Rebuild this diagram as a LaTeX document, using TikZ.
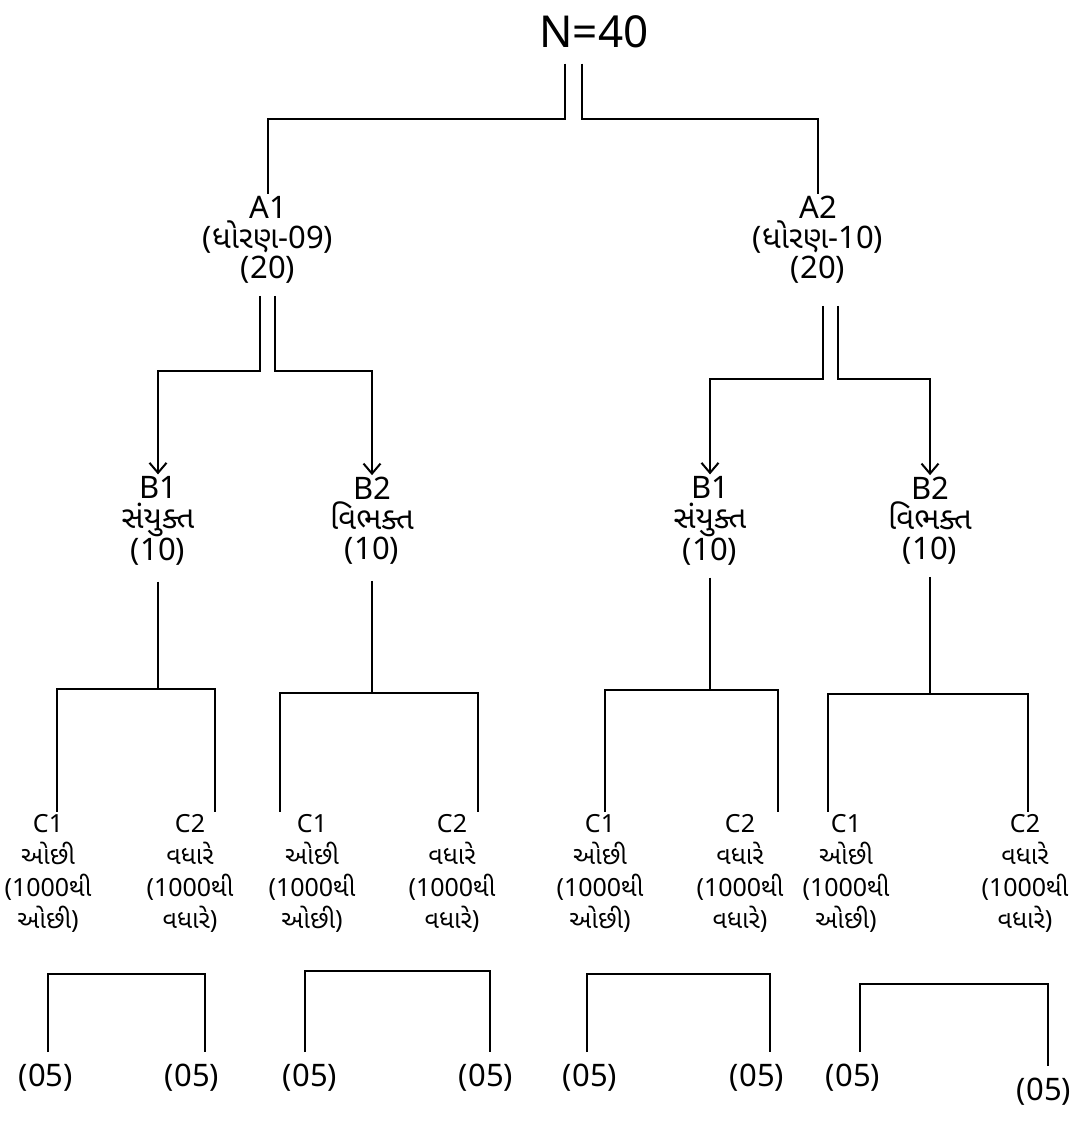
\documentclass[tikz,border=0pt]{standalone}
\usepackage{fontspec}
\setmainfont{Noto Sans}
\newfontfamily\guj[Script=Gujarati]{Noto Sans Gujarati UI}
\usetikzlibrary{arrows.meta}

\begin{document}
\begin{tikzpicture}[x=1pt, y=-1pt,
	lbl/.style={align=center, font=\fontsize{31}{30}\selectfont, inner sep=2pt},
	clbl/.style={align=center, font=\fontsize{25}{32}\selectfont, inner sep=2pt},
	wire/.style={line width=2pt},
	down/.style={line width=2pt, arrows={-{Straight Barb[length=10pt,width=17pt]}}}]
	\useasboundingbox (0,0) rectangle (1087,1124);
	\fill[white] (0,0) rectangle (1087,1124);

	\node[font=\fontsize{44}{44}\selectfont] (N) at (594,32) {N=40};

	\node[lbl] (A1) at (268,240) {A1\\({\guj ધોરણ}-09)\\(20)};
	\node[lbl] (A2) at (818,240) {A2\\({\guj ધોરણ}-10)\\(20)};

	\node[lbl] (B11) at (158,521) {B1\\{\guj સંયુક્ત}\\(10)};
	\node[lbl] (B12) at (372,521) {B2\\{\guj વિભક્ત}\\(10)};
	\node[lbl] (B21) at (710,521) {B1\\{\guj સંયુક્ત}\\(10)};
	\node[lbl] (B22) at (930,521) {B2\\{\guj વિભક્ત}\\(10)};

	\node[clbl] (C111) at (48,873) {C1\\{\guj ઓછી}\\(1000{\guj થી}\\{\guj ઓછી})};
	\node[clbl] (C112) at (190,873) {C2\\{\guj વધારે}\\(1000{\guj થી}\\{\guj વધારે})};
	\node[clbl] (C121) at (312,873) {C1\\{\guj ઓછી}\\(1000{\guj થી}\\{\guj ઓછી})};
	\node[clbl] (C122) at (452,873) {C2\\{\guj વધારે}\\(1000{\guj થી}\\{\guj વધારે})};
	\node[clbl] (C211) at (600,873) {C1\\{\guj ઓછી}\\(1000{\guj થી}\\{\guj ઓછી})};
	\node[clbl] (C212) at (740,873) {C2\\{\guj વધારે}\\(1000{\guj થી}\\{\guj વધારે})};
	\node[clbl] (C221) at (846,873) {C1\\{\guj ઓછી}\\(1000{\guj થી}\\{\guj ઓછી})};
	\node[clbl] (C222) at (1025,873) {C2\\{\guj વધારે}\\(1000{\guj થી}\\{\guj વધારે})};

	\node[lbl] (E1) at (46,1078) {(05)};
	\node[lbl] (E2) at (192,1078) {(05)};
	\node[lbl] (E3) at (310,1078) {(05)};
	\node[lbl] (E4) at (486,1078) {(05)};
	\node[lbl] (E5) at (590,1078) {(05)};
	\node[lbl] (E6) at (757,1078) {(05)};
	\node[lbl] (E7) at (853,1078) {(05)};
	\node[lbl] (E8) at (1044,1092) {(05)};

	% N splits into the two classes
	\draw[wire] ([yshift=-12pt,xshift=-29pt]N.south) -- ++(0,55) -| (A1.north);
	\draw[wire] ([yshift=-12pt,xshift=-12pt]N.south) -- ++(0,55) -| (A2.north);

	\draw[down] ([yshift=-10pt,xshift=-8pt]A1.south) -- ++(0,75) -| (B11.north);
	\draw[down] ([yshift=-10pt,xshift=7pt]A1.south) -- ++(0,75) -| (B12.north);
	\draw[down] ([yshift=-20pt,xshift=5pt]A2.south) -- ++(0,73) -| (B21.north);
	\draw[down] ([yshift=-20pt,xshift=20pt]A2.south) -- ++(0,73) -| (B22.north);

	\draw[wire] ([yshift=-14pt]B11.south) -- ++(0,107) coordinate (j11);
	\draw[wire] ([xshift=9pt]C111.north) |- (j11) -| ([xshift=25pt]C112.north);
	\draw[wire] ([yshift=-14pt]B12.south) -- ++(0,112) coordinate (j12);
	\draw[wire] ([xshift=-32pt]C121.north) |- (j12) -| ([xshift=26pt]C122.north);
	\draw[wire] ([yshift=-10pt]B21.south) -- ++(0,112) coordinate (j21);
	\draw[wire] ([xshift=5pt]C211.north) |- (j21) -| ([xshift=38pt]C212.north);
	\draw[wire] ([yshift=-10pt]B22.south) -- ++(0,117) coordinate (j22);
	\draw[wire] ([xshift=-18pt]C221.north) |- (j22) -| ([xshift=3pt]C222.north);

	%\draw[wire] (C111.south) -- (E1.north);
	\draw[wire] ([yshift=10pt,xshift=2pt]E1.north) -- ++(0,-78) -| ([yshift=10pt,xshift=13pt]E2.north);
	\draw[wire] ([yshift=10pt,xshift=-5pt]E3.north) -- ++(0,-81) -| ([yshift=10pt,xshift=4pt]E4.north);
	\draw[wire] ([yshift=10pt,xshift=-3pt]E5.north) -- ++(0,-78) -| ([yshift=10pt,xshift=13pt]E6.north);
	\draw[wire] ([yshift=10pt,xshift=7pt]E7.north) -- ++(0,-68) -| ([yshift=10pt,xshift=4pt]E8.north);
\end{tikzpicture}
\end{document}
